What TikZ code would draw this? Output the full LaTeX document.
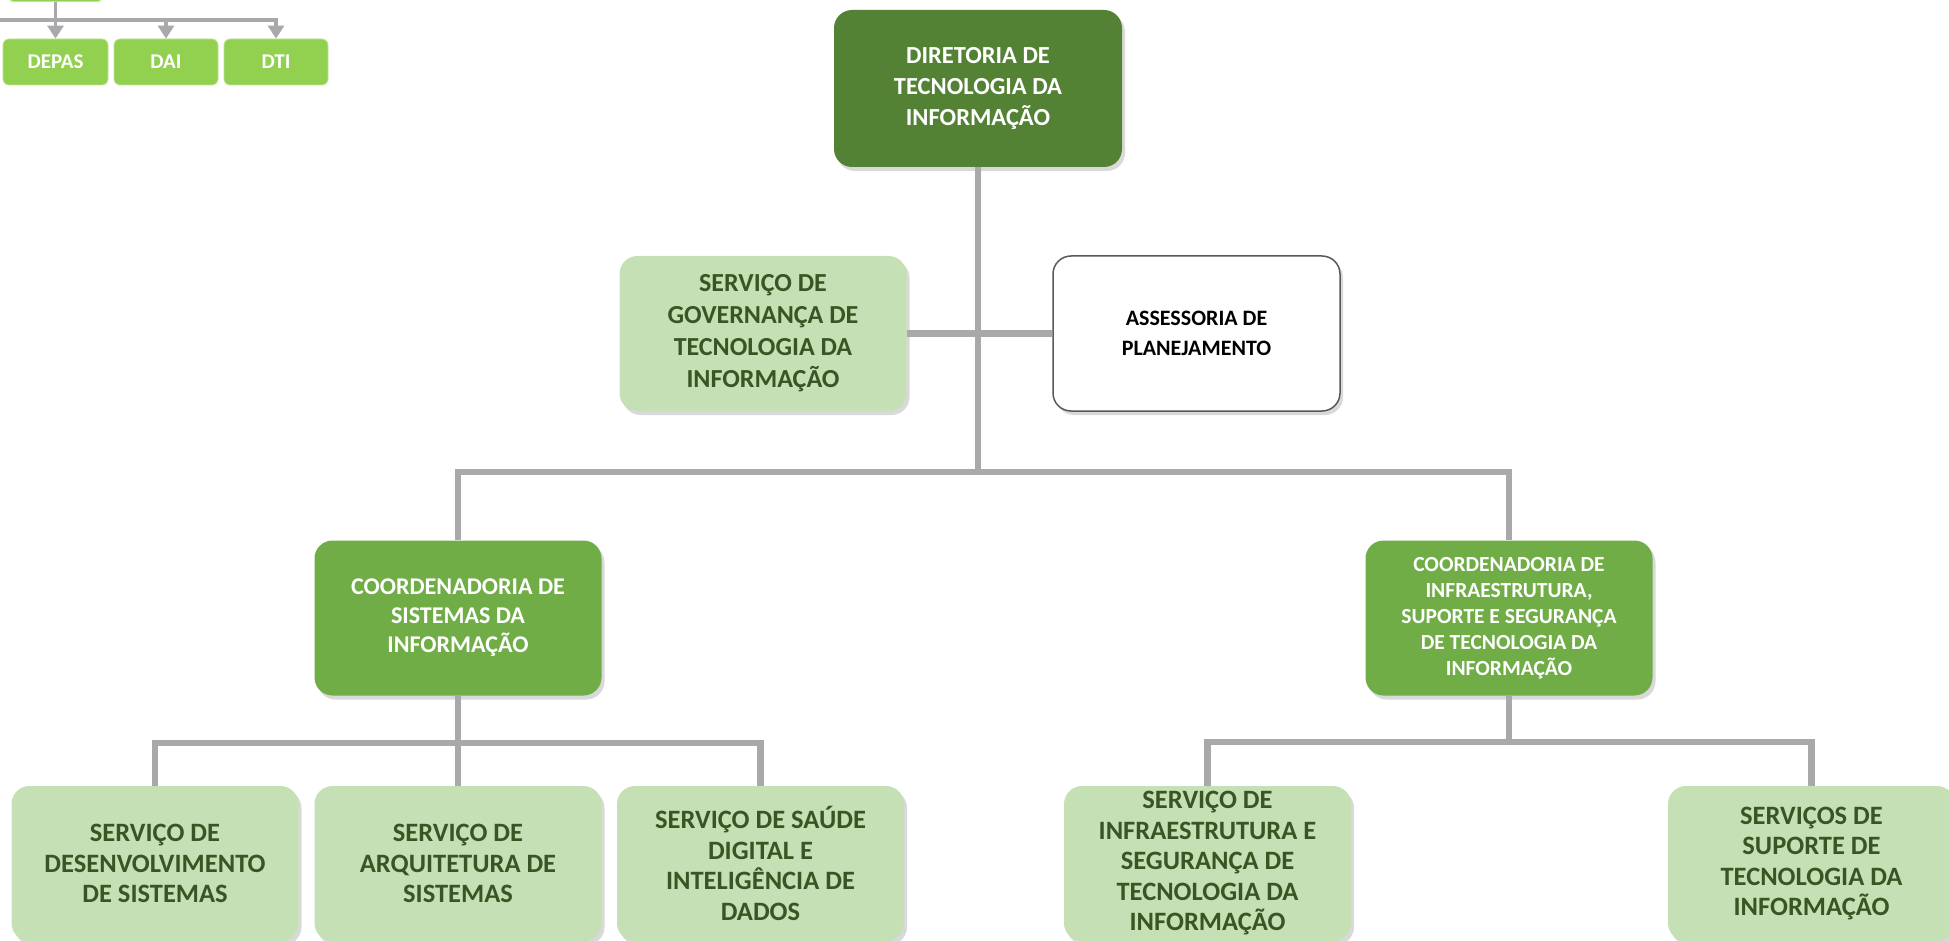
\documentclass[tikz,border=0pt]{standalone}
\usepackage{fontspec}
\setmainfont{Carlito}
\usetikzlibrary{arrows.meta,shadows}

\definecolor{dirgreen}{HTML}{548235}
\definecolor{coordgreen}{HTML}{70AD47}
\definecolor{servgreen}{HTML}{C5E0B4}
\definecolor{servtext}{HTML}{375623}
\definecolor{minigreen}{HTML}{92D050}
\definecolor{linegray}{HTML}{A9A8AA}
\definecolor{asborder}{HTML}{595959}

\tikzset{
  orgbox/.style={rounded corners=18pt, minimum width=287pt, minimum height=155pt,
    align=center, inner sep=2pt,
    drop shadow={shadow xshift=3pt, shadow yshift=-4pt, opacity=0.3}},
  dirbox/.style={orgbox, fill=dirgreen, text=white, font=\bfseries\fontsize{24.5}{31}\selectfont},
  coordbox/.style={orgbox, fill=coordgreen, text=white},
  servbox/.style={orgbox, fill=servgreen, text=servtext, font=\bfseries\fontsize{26.5}{30.5}\selectfont},
  asbox/.style={orgbox, fill=white, draw=asborder, line width=1.5pt, font=\bfseries\fontsize{22}{30}\selectfont},
  minibox/.style={rounded corners=6pt, fill=minigreen, draw=minigreen!60!white, line width=0.8pt,
    text=white, minimum width=104pt, minimum height=46pt, font=\bfseries\fontsize{21}{24}\selectfont},
  orgline/.style={draw=linegray, line width=6.5pt},
  miniline/.style={draw=linegray, line width=3.5pt},
  miniarrow/.style={miniline, -{Triangle[width=16pt,length=13pt]}}
}

\begin{document}
\begin{tikzpicture}[x=1pt,y=-1pt]
\useasboundingbox (0,0) rectangle (1949,941);
\clip (0,0) rectangle (1949,941);

\node[minibox, minimum width=95pt, minimum height=40pt] (mtop) at (55.5,-18.5) {};
\node[minibox, minimum width=105pt] (depas) at (55.5,62) {DEPAS};
\node[minibox] (dai) at (166,62) {DAI};
\node[minibox] (dti) at (276,62) {DTI};
\coordinate (mbus) at (55.5,20);
\coordinate (mleft) at (-20,20);
\draw[miniline] (mleft) -- (mbus);
\draw[miniarrow] (mtop) -- (depas);
\draw[miniarrow] (mbus) -| (dai);
\draw[miniarrow] (mbus) -| (dti);

\node[dirbox, minimum width=288pt, minimum height=157pt] (dir) at (978,88.5)
{DIRETORIA DE\\TECNOLOGIA DA\\INFORMAÇÃO};
\node[servbox, font=\bfseries\fontsize{26}{32}\selectfont] (gov) at (763,333.5)
{SERVIÇO DE\\GOVERNANÇA DE\\TECNOLOGIA DA\\INFORMAÇÃO};
\node[asbox] (ase) at (1196.5,333.5)
{ASSESSORIA DE\\PLANEJAMENTO};
\node[coordbox, font=\bfseries\fontsize{24}{29}\selectfont] (csis) at (458,618)
{COORDENADORIA DE\\SISTEMAS DA\\INFORMAÇÃO};
\node[coordbox, font=\bfseries\fontsize{21.5}{26}\selectfont] (cinf) at (1509,618)
{COORDENADORIA DE\\INFRAESTRUTURA,\\SUPORTE E SEGURANÇA\\DE TECNOLOGIA DA\\INFORMAÇÃO};

\node[servbox] (sdev) at (155,863.5) {SERVIÇO DE\\DESENVOLVIMENTO\\DE SISTEMAS};
\node[servbox] (sarq) at (458,863.5) {SERVIÇO DE\\ARQUITETURA DE\\SISTEMAS};
\node[servbox] (ssau) at (760.5,863.5) {SERVIÇO DE SAÚDE\\DIGITAL E\\INTELIGÊNCIA DE\\DADOS};
\node[servbox] (sinf) at (1207.5,863.5) {SERVIÇO DE\\INFRAESTRUTURA E\\SEGURANÇA DE\\TECNOLOGIA DA\\INFORMAÇÃO};
\node[servbox] (ssup) at (1811.5,863.5) {SERVIÇOS DE\\SUPORTE DE\\TECNOLOGIA DA\\INFORMAÇÃO};

\coordinate (bus) at (978,472);
\coordinate (sisbus) at (458,743);
\coordinate (infbus) at (1509,742);
\draw[orgline] (dir) -- (bus);
\draw[orgline] (gov) -- (ase);
\draw[orgline] (bus) -| (csis);
\draw[orgline] (bus) -| (cinf);
\draw[orgline] (csis) -- (sisbus);
\draw[orgline] (sisbus) -| (sdev);
\draw[orgline] (sisbus) -- (sarq);
\draw[orgline] (sisbus) -| (ssau);
\draw[orgline] (cinf) -- (infbus);
\draw[orgline] (infbus) -| (sinf);
\draw[orgline] (infbus) -| (ssup);
\end{tikzpicture}
\end{document}
